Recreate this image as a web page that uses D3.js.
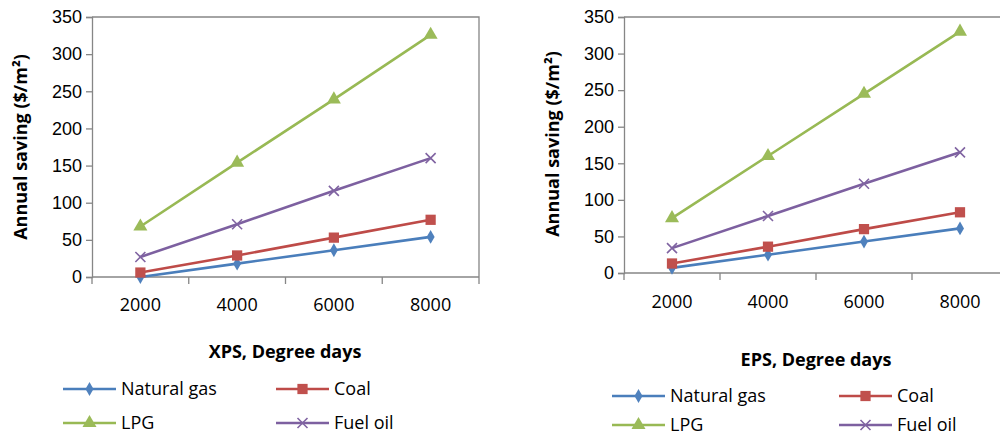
<!DOCTYPE html>
<html>
<head>
<meta charset="utf-8">
<script src="https://cdn.jsdelivr.net/npm/d3@7"></script>
<style>
  body { margin: 0; background: #fff; }
  svg { display: block; font-family: "Open Sans", sans-serif; }
  .tick text { font-size: 18px; fill: #000; }
  .axis path, .axis line { stroke: #868686; }
  .axtitle { font-weight: bold; font-size: 18px; }
  .legtext { font-size: 18px; }
</style>
</head>
<body>
<svg id="chart" width="1000" height="437"></svg>
<script>
// degree days (categories)
var degreeDays = ["2000", "4000", "6000", "8000"];
var seriesNames = ["Natural gas", "Coal", "LPG", "Fuel oil"];
var yTicks = [0, 50, 100, 150, 200, 250, 300, 350];

// XPS annual saving ($/m2)
var xpsNaturalGas = [0, 18, 36, 54];
var xpsCoal = [6, 29, 53, 77];
var xpsLPG = [68, 154, 239, 326];
var xpsFuelOil = [27, 71, 116, 160];

// EPS annual saving ($/m2)
var epsNaturalGas = [7, 25, 43, 61];
var epsCoal = [13, 36, 60, 83];
var epsLPG = [75, 160, 245, 330];
var epsFuelOil = [34, 78, 122, 165];

var lineColors = ["#4a7ebb", "#be4b48", "#98b954", "#7d60a0"];
var markColors = ["#4f81bd", "#c0504d", "#9bbb59", "#8064a2"];
var markers = ["diamond", "square", "triangle", "x"];

var svg = d3.select("#chart");

function drawMarker(g, type, cx, cy, i) {
  if (type === "x") {
    g.append("path")
      .attr("d", "M" + (cx - 5) + "," + (cy - 5) + "L" + (cx + 5) + "," + (cy + 5) +
                 "M" + (cx - 5) + "," + (cy + 5) + "L" + (cx + 5) + "," + (cy - 5))
      .attr("stroke", markColors[i]).attr("stroke-width", 1.6).attr("fill", "none");
    return;
  }
  var sym = type === "diamond" ? d3.symbolDiamond : type === "square" ? d3.symbolSquare : d3.symbolTriangle;
  var size = type === "diamond" ? 55 : type === "square" ? 105 : 85;
  g.append("path")
    .attr("d", d3.symbol().type(sym).size(size)())
    .attr("transform", "translate(" + cx + "," + cy + ")")
    .attr("fill", markColors[i]);
}

function drawChart(cfg) {
  var g = svg.append("g");
  var x = d3.scaleBand().domain(degreeDays).range([cfg.left, cfg.right]);
  var y = d3.scaleLinear().domain([0, 350]).range([cfg.bottom, cfg.top]);

  // plot area border
  g.append("path")
    .attr("d", "M" + cfg.left + "," + cfg.top + "H" + cfg.right + "V" + cfg.bottom)
    .attr("stroke", "#868686").attr("fill", "none").attr("stroke-width", 1.3);

  var yAxis = g.append("g").attr("class", "axis")
    .attr("transform", "translate(" + cfg.left + ",0)")
    .call(d3.axisLeft(y).tickValues(yTicks).tickSize(6).tickPadding(4));
  yAxis.selectAll("path, line").attr("stroke-width", 1.3);

  // category axis: ticks at band edges, labels at band centres
  var xAxis = g.append("g").attr("class", "axis")
    .attr("transform", "translate(0," + cfg.bottom + ")");
  xAxis.append("line").attr("x1", cfg.left).attr("x2", cfg.right)
    .attr("stroke", "#868686").attr("stroke-width", 1.3);
  var edges = degreeDays.map(function (d) { return x(d); }).concat([cfg.right]);
  xAxis.selectAll(".edge").data(edges).enter().append("line")
    .attr("x1", function (d) { return d; }).attr("x2", function (d) { return d; })
    .attr("y1", 0).attr("y2", 7)
    .attr("stroke", "#868686").attr("stroke-width", 1.3);
  xAxis.selectAll(".lbl").data(degreeDays).enter().append("text")
    .attr("x", function (d) { return x(d) + x.bandwidth() / 2; })
    .attr("y", cfg.tickY - cfg.bottom)
    .attr("dy", "0.35em")
    .attr("text-anchor", "middle").attr("font-size", 18)
    .text(function (d) { return d; });

  var line = d3.line()
    .x(function (d, j) { return x(degreeDays[j]) + x.bandwidth() / 2; })
    .y(function (d) { return y(d); });

  cfg.series.forEach(function (vals, i) {
    g.append("path").datum(vals)
      .attr("d", line).attr("fill", "none")
      .attr("stroke", lineColors[i]).attr("stroke-width", 2.6);
  });
  cfg.series.forEach(function (vals, i) {
    vals.forEach(function (v, j) {
      drawMarker(g, markers[i], x(degreeDays[j]) + x.bandwidth() / 2, y(v), i);
    });
  });

  // axis titles
  g.append("text").attr("class", "axtitle")
    .attr("transform", "translate(" + cfg.yTitleX + "," + cfg.yTitleY + ") rotate(-90)")
    .attr("text-anchor", "middle").attr("dy", "0.35em")
    .text("Annual saving ($/m²)");
  g.append("text").attr("class", "axtitle")
    .attr("x", cfg.xTitleX).attr("y", cfg.xTitleY)
    .attr("text-anchor", "middle").attr("dy", "0.35em")
    .text(cfg.xTitle);

  // legend 2x2
  seriesNames.forEach(function (name, i) {
    var lx = cfg.legX[i % 2], ly = cfg.legY[Math.floor(i / 2)];
    g.append("line").attr("x1", lx).attr("x2", lx + 53)
      .attr("y1", ly).attr("y2", ly)
      .attr("stroke", lineColors[i]).attr("stroke-width", 2.6);
    drawMarker(g, markers[i], lx + 26.5, ly, i);
    g.append("text").attr("class", "legtext")
      .attr("x", lx + 58).attr("y", ly).attr("dy", "0.35em")
      .text(name);
  });
}

drawChart({
  left: 92, right: 479, top: 17, bottom: 277,
  tickY: 305, xTitle: "XPS, Degree days", xTitleX: 285, xTitleY: 352,
  yTitleX: 21, yTitleY: 147,
  legX: [63, 276], legY: [389, 423],
  series: [xpsNaturalGas, xpsCoal, xpsLPG, xpsFuelOil]
});

drawChart({
  left: 624, right: 1008, top: 17, bottom: 273,
  tickY: 302, xTitle: "EPS, Degree days", xTitleX: 816, xTitleY: 360,
  yTitleX: 553, yTitleY: 144,
  legX: [612, 839], legY: [396, 425],
  series: [epsNaturalGas, epsCoal, epsLPG, epsFuelOil]
});
</script>
</body>
</html>
